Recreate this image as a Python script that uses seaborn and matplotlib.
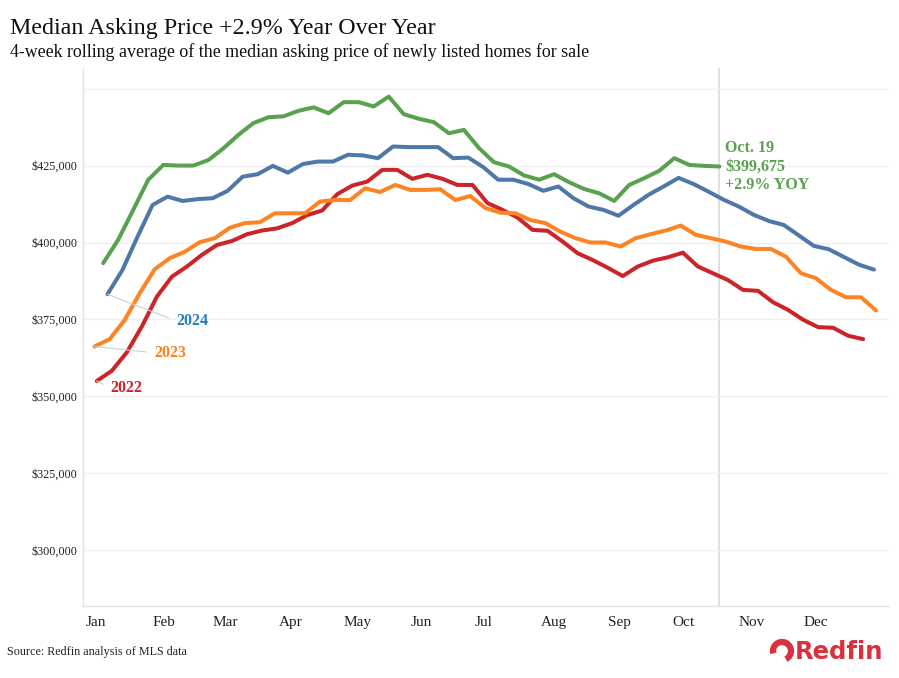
import numpy as np
import pandas as pd
import matplotlib
matplotlib.use("Agg")
import matplotlib.pyplot as plt
import matplotlib.patches as mpatches
import seaborn as sns

# weekly 4-week rolling median asking price, in thousands of dollars
price_2022 = [355.0, 358.3, 364.3, 372.7, 382.4, 388.9, 392.2, 396.0, 399.2, 400.5,
              402.7, 403.9, 404.6, 406.3, 408.9, 410.4, 415.7, 418.5, 419.8, 423.6,
              423.6, 420.7, 422.0, 420.7, 418.7, 418.7, 412.8, 410.6, 408.1, 404.1,
              403.8, 400.3, 396.5, 394.3, 391.8, 389.1, 392.2, 394.1, 395.2, 396.7,
              392.2, 390.0, 387.8, 384.6, 384.3, 380.6, 378.1, 374.9, 372.5, 372.3,
              369.7, 368.6]
price_2023 = [366.2, 368.6, 374.8, 383.5, 391.3, 394.9, 397.0, 400.1, 401.4, 404.8,
              406.3, 406.6, 409.5, 409.5, 409.5, 413.3, 413.8, 413.8, 417.6, 416.4,
              418.7, 417.1, 417.1, 417.3, 413.8, 415.1, 411.2, 409.7, 409.5, 407.3,
              406.3, 403.5, 401.4, 400.0, 400.0, 398.7, 401.4, 402.7, 403.9, 405.5,
              402.5, 401.4, 400.3, 398.7, 397.9, 397.9, 395.4, 390.0, 388.4, 384.6,
              382.2, 382.2, 377.9]
price_2024 = [383.2, 391.1, 401.9, 412.2, 414.9, 413.5, 414.1, 414.4, 416.8, 421.4,
              422.2, 424.9, 422.7, 425.5, 426.3, 426.3, 428.5, 428.3, 427.4, 431.2,
              431.0, 431.0, 431.0, 427.4, 427.6, 424.5, 420.4, 420.4, 419.0, 416.8,
              418.2, 414.4, 411.7, 410.6, 408.7, 412.2, 415.5, 418.2, 421.0, 419.0,
              416.5, 413.9, 411.7, 409.0, 407.0, 405.7, 402.3, 398.9, 397.8, 395.3,
              392.8, 391.2]
price_2025 = [393.3, 400.9, 410.6, 420.4, 425.2, 425.0, 425.0, 426.8, 430.6, 435.0,
              438.8, 440.7, 441.0, 442.8, 443.9, 442.0, 445.6, 445.6, 444.2, 447.4,
              441.7, 440.2, 439.1, 435.5, 436.6, 430.7, 426.1, 424.7, 421.8, 420.4,
              422.2, 419.6, 417.4, 416.0, 413.5, 418.7, 420.9, 423.3, 427.4, 425.2,
              424.9, 424.7]

years = ["2022", "2023", "2024", "2025"]
first_day = [5, 4, 10, 8]   # day of year of the first weekly point
series = [price_2022, price_2023, price_2024, price_2025]
colors = {"2022": "#cc2529", "2023": "#fb8424", "2024": "#4e79a7", "2025": "#59a14f"}

months = ["Jan", "Feb", "Mar", "Apr", "May", "Jun", "Jul", "Aug", "Sep", "Oct", "Nov", "Dec"]
month_start = [0, 31, 59, 90, 120, 151, 181, 212, 243, 273, 304, 334]

yticks = [300000, 325000, 350000, 375000, 400000, 425000, 450000]
ylabels = ["$300,000", "$325,000", "$350,000", "$375,000", "$400,000", "$425,000", ""]

rows = []
for yr, d0, vals in zip(years, first_day, series):
    for i, v in enumerate(vals):
        rows.append({"year": yr, "day": d0 + 7 * i, "price": v * 1000})
df = pd.DataFrame(rows)

sns.set_theme(style="white")
plt.rcParams["font.family"] = ["Liberation Serif", "DejaVu Serif"]

fig = plt.figure(figsize=(8.99, 6.78), dpi=100)
ax = fig.add_axes([83 / 899, 1 - 606 / 678, 806 / 899, 538 / 678])

sns.lineplot(data=df, x="day", y="price", hue="year", hue_order=years,
             palette=colors, estimator=None, sort=False, legend=False,
             linewidth=2.9, solid_capstyle="round", ax=ax)

ax.set_xlim(-1.4, 374)
ax.set_ylim(281900, 456700)
ax.set_yticks(yticks)
ax.set_yticklabels(ylabels)
ax.set_xticks(month_start)
ax.set_xticklabels(months)
for lab in ax.get_xticklabels():
    lab.set_horizontalalignment("left")
ax.tick_params(axis="x", length=0, pad=7, labelsize=11, colors="#222222")
ax.tick_params(axis="y", length=0, pad=4, labelsize=8.7, colors="#222222")
ax.set_xlabel("")
ax.set_ylabel("")

ax.grid(axis="y", color="#efefef", linewidth=1)
ax.set_axisbelow(True)
for s in ["top", "right"]:
    ax.spines[s].set_visible(False)
for s in ["left", "bottom"]:
    ax.spines[s].set_color("#e4e4e4")
    ax.spines[s].set_linewidth(1)

# reference line at latest week
last_day = first_day[3] + 7 * (len(price_2025) - 1)
ax.axvline(last_day, color="#dcdcdc", linewidth=1.3, zorder=0)
ax.annotate("Oct. 19\n$399,675\n+2.9% YOY", xy=(last_day, price_2025[-1] * 1000),
            xytext=(4, 0), textcoords="offset points", ha="left", va="center",
            fontsize=11.5, fontweight="bold", color="#59a14f", linespacing=1.22)

# year labels with leader lines
label_off = {"2022": (9.6, -5), "2023": (42.8, -4.5), "2024": (49.3, -19.2)}
label_col = {"2022": "#c8242b", "2023": "#f7831f", "2024": "#2a7fb8"}
for yr, d0, vals in zip(years[:3], first_day[:3], series[:3]):
    ax.annotate(yr, xy=(d0, vals[0] * 1000), xytext=label_off[yr],
                textcoords="offset points", ha="left", va="center",
                fontsize=11.5, fontweight="bold", color=label_col[yr],
                arrowprops=dict(arrowstyle="-", color="#cfcfcf", lw=0.8,
                                relpos=(0, 0.5), shrinkA=3, shrinkB=0))

fig.text(10 / 899, 1 - 34 / 678, "Median Asking Price +2.9% Year Over Year",
         fontsize=17.3, va="baseline", ha="left", color="#111111")
fig.text(10 / 899, 1 - 57 / 678,
         "4-week rolling average of the median asking price of newly listed homes for sale",
         fontsize=12.9, va="baseline", ha="left", color="#111111")
fig.text(7 / 899, 1 - 655 / 678, "Source: Redfin analysis of MLS data",
         fontsize=8.7, va="baseline", ha="left", color="#222222")

# logo
fig.text(795 / 899, 1 - 659 / 678, "Redfin", fontsize=17.5, fontweight="bold",
         family="DejaVu Sans", color="#d9323f", va="baseline", ha="left")
fig.patches.append(mpatches.Arc((782 / 899, 1 - 651 / 678), 18 / 899, 18 / 678,
                                theta1=-70, theta2=200, lw=4.5, color="#d9323f",
                                transform=fig.transFigure, figure=fig))

fig.savefig("out.png", dpi=100)
